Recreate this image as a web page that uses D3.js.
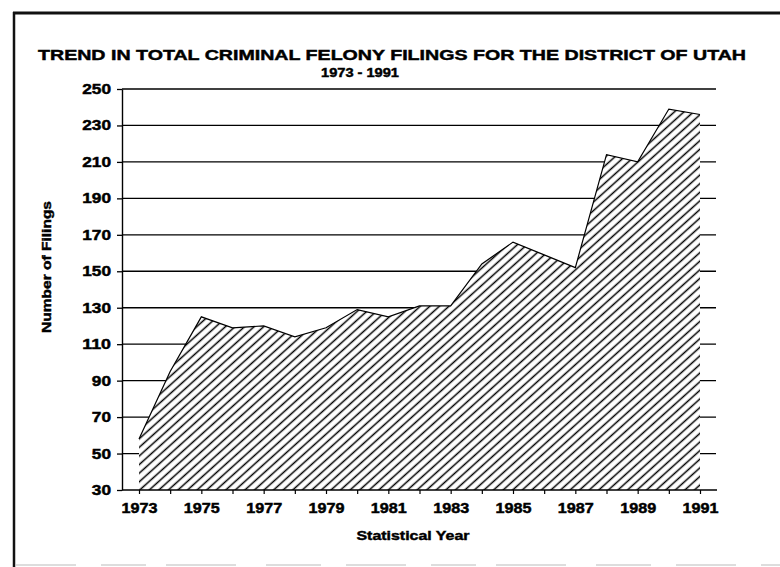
<!DOCTYPE html>
<html>
<head>
<meta charset="utf-8">
<script src="https://cdn.jsdelivr.net/npm/d3@7"></script>
<style>
  html, body { margin: 0; padding: 0; background: #fff; }
  svg { display: block; }
  text { font-family: "Liberation Sans", Arial, sans-serif; font-weight: bold; fill: #000; stroke: #000; stroke-width: 0.45px; }
</style>
</head>
<body>
<svg id="chart" width="780" height="567"></svg>
<script>
// Total criminal felony filings, District of Utah, by statistical year
const years = [1973, 1974, 1975, 1976, 1977, 1978, 1979, 1980, 1981, 1982,
               1983, 1984, 1985, 1986, 1987, 1988, 1989, 1990, 1991];
const filings = [58, 95, 125, 119, 120, 114, 119, 129, 125, 131,
                 131, 154, 166, 159, 152, 214, 210, 239, 236];
const yTicks = [30, 50, 70, 90, 110, 130, 150, 170, 190, 210, 230, 250];
const xTickLabels = [1973, 1975, 1977, 1979, 1981, 1983, 1985, 1987, 1989, 1991];

const titleText = "TREND IN TOTAL CRIMINAL FELONY FILINGS FOR THE DISTRICT OF UTAH";
const subtitleText = "1973 - 1991";
const yTitle = "Number of Filings";
const xTitle = "Statistical Year";

const svg = d3.select("#chart");

// plot frame
const plotLeft = 122, plotRight = 716, plotTop = 89, plotBottom = 490;

const x = d3.scaleLinear().domain([1973, 1991]).range([139, 700]);
const y = d3.scaleLinear().domain([30, 250]).range([plotBottom, plotTop]);

// diagonal hatch
const defs = svg.append("defs");
const pat = defs.append("pattern")
  .attr("id", "hatch")
  .attr("patternUnits", "userSpaceOnUse")
  .attr("width", 12).attr("height", 6.4)
  .attr("patternTransform", "rotate(-42)");
pat.append("line")
  .attr("x1", 0).attr("x2", 12)
  .attr("y1", 3.2).attr("y2", 3.2)
  .attr("stroke", "#000").attr("stroke-width", 1.5);

// outer page frame
svg.append("line").attr("x1", 14).attr("x2", 14).attr("y1", 12).attr("y2", 567)
  .attr("stroke", "#111").attr("stroke-width", 2.5);
svg.append("line").attr("x1", 13).attr("x2", 780).attr("y1", 13).attr("y2", 13)
  .attr("stroke", "#111").attr("stroke-width", 3);
svg.append("line").attr("x1", 16).attr("x2", 780).attr("y1", 565).attr("y2", 565)
  .attr("stroke", "#bbb").attr("stroke-width", 1.2)
  .attr("stroke-dasharray", "60 25 45 20 70 30 55 25");

// titles
svg.append("text")
  .attr("x", 392).attr("y", 60)
  .attr("text-anchor", "middle")
  .attr("font-size", 15)
  .attr("textLength", 708).attr("lengthAdjust", "spacingAndGlyphs")
  .text(titleText);
svg.append("text")
  .attr("x", 360).attr("y", 77)
  .attr("text-anchor", "middle")
  .attr("font-size", 13)
  .attr("textLength", 78).attr("lengthAdjust", "spacingAndGlyphs")
  .text(subtitleText);

// horizontal gridlines
svg.append("g")
  .selectAll("line")
  .data(yTicks.filter(d => d !== 30))
  .join("line")
  .attr("x1", plotLeft).attr("x2", plotRight)
  .attr("y1", d => y(d)).attr("y2", d => y(d))
  .attr("stroke", "#000").attr("stroke-width", 1.3);

// filled area
const area = d3.area()
  .x((d, i) => x(years[i]))
  .y0(y(30))
  .y1(d => y(d));
svg.append("path").datum(filings).attr("d", area).attr("fill", "#fff");
svg.append("path").datum(filings).attr("d", area).attr("fill", "url(#hatch)");
const line = d3.line().x((d, i) => x(years[i])).y(d => y(d));
svg.append("path").datum(filings).attr("d", line)
  .attr("fill", "none").attr("stroke", "#000").attr("stroke-width", 1.2);

// y axis
const yAxis = d3.axisLeft(y).tickValues(yTicks).tickSize(5).tickSizeOuter(0).tickPadding(6);
const gy = svg.append("g").attr("transform", `translate(${plotLeft},0)`).call(yAxis);
gy.select(".domain").attr("stroke", "#000").attr("stroke-width", 1.4);
gy.selectAll(".tick line").attr("stroke", "#000").attr("stroke-width", 1.3);
gy.selectAll(".tick text")
  .attr("font-size", 14)
  .attr("font-family", null)
  .attr("fill", null)
  .attr("textLength", d => String(d).length * 9.6)
  .attr("lengthAdjust", "spacingAndGlyphs");

// x axis
const xAxis = d3.axisBottom(x).tickValues(years).tickSize(4).tickSizeOuter(0).tickPadding(9)
  .tickFormat(d => xTickLabels.includes(d) ? String(d) : "");
const gx = svg.append("g").attr("transform", `translate(0,${plotBottom})`).call(xAxis);
gx.select(".domain").attr("d", `M${plotLeft},0H${plotRight + 1}`).attr("stroke", "#000").attr("stroke-width", 1.6);
gx.selectAll(".tick line").attr("stroke", "#000").attr("stroke-width", 1.2);
gx.selectAll(".tick text")
  .attr("font-size", 14)
  .attr("font-family", null)
  .attr("fill", null)
  .filter(d => xTickLabels.includes(d))
  .attr("textLength", 36)
  .attr("lengthAdjust", "spacingAndGlyphs");

// axis titles
svg.append("text")
  .attr("transform", "translate(51,267) rotate(-90)")
  .attr("text-anchor", "middle")
  .attr("font-size", 13)
  .attr("textLength", 132).attr("lengthAdjust", "spacingAndGlyphs")
  .text(yTitle);
svg.append("text")
  .attr("x", 413).attr("y", 540)
  .attr("text-anchor", "middle")
  .attr("font-size", 13)
  .attr("textLength", 113).attr("lengthAdjust", "spacingAndGlyphs")
  .text(xTitle);
</script>
</body>
</html>
